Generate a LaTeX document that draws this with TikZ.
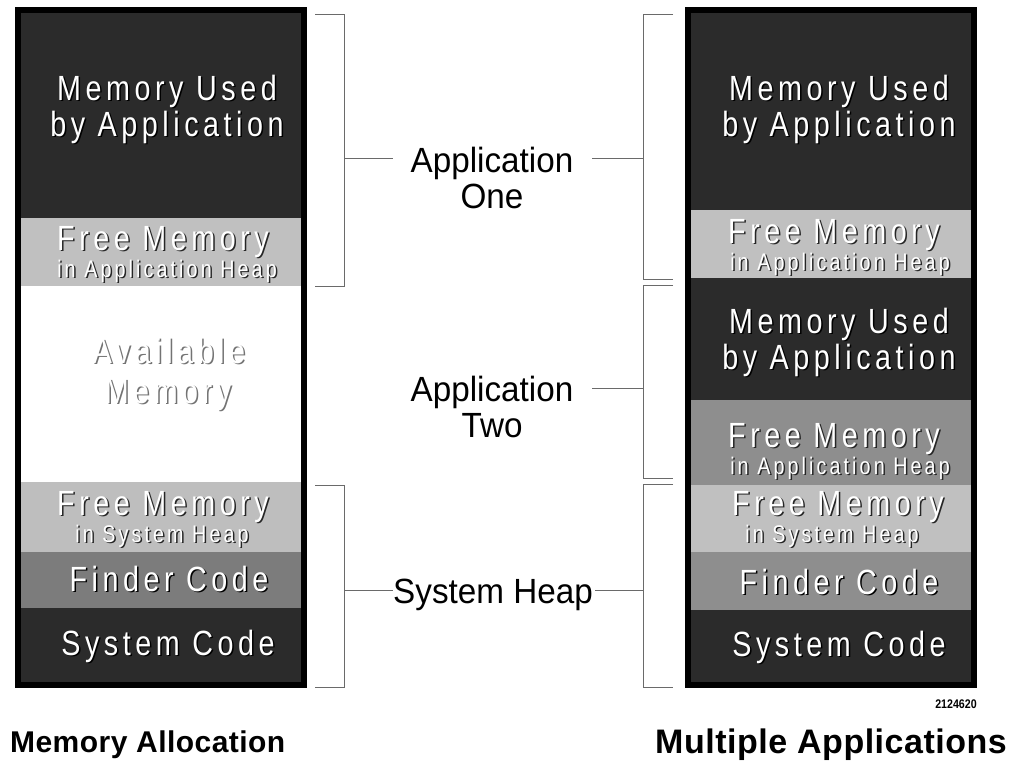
\documentclass[tikz,border=0pt]{standalone}
\usepackage{fontspec}
\setmainfont{Liberation Sans}
\newfontfamily\boxfont[FakeStretch=0.82,LetterSpace=13]{Liberation Sans}
\newfontfamily\labfont[FakeStretch=0.95]{Liberation Sans}
\newfontfamily\numfont[FakeStretch=0.85]{Liberation Sans}
\newfontfamily\titlefont[LetterSpace=1.5]{Liberation Sans}
\definecolor{darkband}{HTML}{2B2B2B}
\definecolor{lightband}{HTML}{C0C0C0}
\definecolor{sysfree}{HTML}{BEBEBE}
\definecolor{finderband}{HTML}{7C7C7C}
\definecolor{midband}{HTML}{8E8E8E}
\definecolor{bracketgray}{HTML}{6A6A6A}
\tikzset{
  bt/.style={text=white, anchor=base, inner sep=0pt},
  btsh/.style={anchor=base, inner sep=0pt},
  brk/.style={draw=bracketgray, line width=0.9pt},
  lab/.style={anchor=base, inner sep=0pt, font=\labfont\fontsize{35}{35}\selectfont},
  ttl/.style={anchor=base west, inner sep=0pt, font=\titlefont\bfseries},
  colborder/.style={draw=black, line width=6pt}
}
% name, x, y, size, shadow colour, text
\newcommand\btext[6]{%
  \node[btsh, text=#5, font=\boxfont\fontsize{#4}{#4}\selectfont] at ([shift={(1.5,1.5)}]#2,#3) {#6};
  \node[bt, font=\boxfont\fontsize{#4}{#4}\selectfont] (#1) at (#2,#3) {#6};}
\begin{document}
\begin{tikzpicture}[x=1pt,y=-1pt]
\useasboundingbox (0,0) rectangle (1017,764);
\fill[white] (0,0) rectangle (1017,764);

% ---------- left column ----------
\fill[darkband]   (18,10)  rectangle (304,218);
\fill[lightband]  (18,218) rectangle (304,286);
\fill[white]      (18,286) rectangle (304,482);
\fill[sysfree]    (18,482) rectangle (304,552);
\fill[finderband] (18,552) rectangle (304,608);
\fill[darkband]   (18,608) rectangle (304,685);
\draw[colborder] (18,10) rectangle (304,685);

\btext{lmu1}{167}{100}{35}{black}{Memory Used}
\btext{lmu2}{167}{136}{35}{black}{by Application}
\btext{lfm1}{163}{250}{35}{black!85}{Free Memory}
\btext{lfm2}{167}{277}{24}{black!85}{in Application Heap}
\btext{lav1}{169}{363}{35}{black!55}{Available}
\btext{lav2}{168}{403}{35}{black!55}{Memory}
\btext{lsf1}{163}{515}{35}{black!85}{Free Memory}
\btext{lsf2}{162}{542}{24}{black!85}{in System Heap}
\btext{lfc}{169}{591}{35}{black}{Finder Code}
\btext{lsc}{168}{655}{35}{black}{System Code}

% ---------- right column ----------
\fill[darkband]   (688,10)  rectangle (974,210);
\fill[lightband]  (688,210) rectangle (974,278);
\fill[darkband]   (688,278) rectangle (974,400);
\fill[midband]    (688,400) rectangle (974,485);
\fill[lightband]  (688,485) rectangle (974,552);
\fill[midband]    (688,552) rectangle (974,610);
\fill[darkband]   (688,610) rectangle (974,685);
\draw[colborder] (688,10) rectangle (974,685);

\btext{rmu1}{839}{100}{35}{black}{Memory Used}
\btext{rmu2}{839}{136}{35}{black}{by Application}
\btext{rfm1}{834}{243}{35}{black!85}{Free Memory}
\btext{rfm2}{840}{270}{24}{black!85}{in Application Heap}
\btext{rmu3}{839}{333}{35}{black}{Memory Used}
\btext{rmu4}{839}{369}{35}{black}{by Application}
\btext{rfm3}{834}{447}{35}{black!85}{Free Memory}
\btext{rfm4}{840}{474}{24}{black!85}{in Application Heap}
\btext{rsf1}{838}{515}{35}{black!85}{Free Memory}
\btext{rsf2}{832}{542}{24}{black!85}{in System Heap}
\btext{rfc}{839}{594}{35}{black}{Finder Code}
\btext{rsc}{839}{656}{35}{black}{System Code}

% ---------- middle labels ----------
\node[lab] (app1a) at (492,172) {Application};
\node[lab] (app1b) at (492,208) {One};
\node[lab] (app2a) at (492,401) {Application};
\node[lab] (app2b) at (492,437) {Two};
\node[lab] (sysh)  at (493,603) {System Heap};

% ---------- brackets ----------
\coordinate (lb1m) at (344,158);
\coordinate (lb3m) at (344,590);
\coordinate (rb1m) at (643,158);
\coordinate (rb2m) at (643,388);
\coordinate (rb3m) at (643,590);
\coordinate (t1l) at (393,158);
\coordinate (t1r) at (592,158);
\coordinate (t2r) at (592,388);
\coordinate (t3l) at (393,590);
\coordinate (t3r) at (595,590);

\draw[brk] (315,14) -- (344,14) -- (344,286) -- (315,286);
\draw[brk] (315,485) -- (344,485) -- (344,687) -- (315,687);
\draw[brk] (673,14) -- (643,14) -- (643,279) -- (673,279);
\draw[brk] (673,285) -- (643,285) -- (643,478) -- (673,478);
\draw[brk] (673,484) -- (643,484) -- (643,687) -- (673,687);

\draw[brk] (lb1m) -- (t1l);
\draw[brk] (t1r) -- (rb1m);
\draw[brk] (t2r) -- (rb2m);
\draw[brk] (lb3m) -- (t3l);
\draw[brk] (t3r) -- (rb3m);

% ---------- captions ----------
\node[anchor=base, inner sep=0pt, font=\numfont\bfseries\fontsize{12.5}{12.5}\selectfont] (fignum) at (956,708) {2124620};
\node[ttl, font=\titlefont\bfseries\fontsize{30}{30}\selectfont] (t1) at (10,752) {Memory Allocation};
\node[ttl, font=\titlefont\bfseries\fontsize{34}{34}\selectfont] (t2) at (655,753) {Multiple Applications};
\end{tikzpicture}
\end{document}
